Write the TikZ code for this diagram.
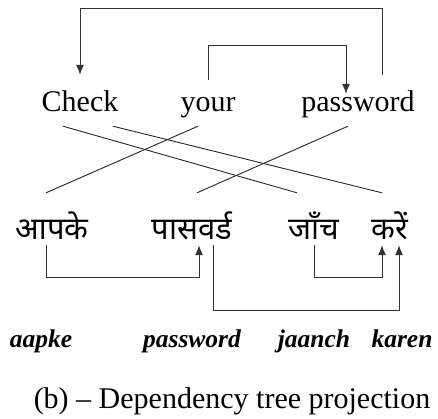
\documentclass[tikz,border=0pt]{standalone}
\usepackage{fontspec}
\setmainfont{Liberation Serif}
\newfontfamily\hindi[Script=Devanagari]{Noto Sans}
\usetikzlibrary{arrows.meta}
\begin{document}
\begin{tikzpicture}[x=1pt,y=-1pt,
  eng/.style={inner sep=0pt, anchor=base, font=\fontsize{30}{30}\selectfont, text height=36pt, text depth=15pt},
  hin/.style={inner sep=0pt, anchor=base, font=\hindi\fontsize{31}{31}\selectfont, text height=46pt, text depth=6pt},
  tr/.style={inner sep=0pt, anchor=base, font=\bfseries\itshape\fontsize{25.5}{25.5}\selectfont},
  dep/.style={line width=1pt, black!80, -{Latex[length=10pt,width=8pt]}},
  lnk/.style={line width=0.9pt, black!85}]
\useasboundingbox (0,0) rectangle (438,418);

\node[eng] (check) at (80,111) {Check};
\node[eng] (your) at (208,111) {your};
\node[eng] (pass) at (358,111) {password};

\node[hin] (aapke) at (52,239) {आपके};
\node[hin] (pasvard) at (192,239) {पासवर्ड};
\node[hin] (janch) at (314,239) {जाँच};
\node[hin] (karen) at (390,239) {करें};

\node[tr] (aapke-tr) at (41,347) {aapke};
\node[tr] (pasvard-tr) at (192,347) {password};
\node[tr] (janch-tr) at (314,347) {jaanch};
\node[tr] (karen-tr) at (402,347) {karen};

\node[inner sep=0pt, anchor=base, font=\fontsize{30}{30}\selectfont] (caption) at (232,408) {(b) -- Dependency tree projection};

% english arcs
\draw[dep] ([xshift=24pt]pass.north) -- ++(0,-66) -| (check.north);
\draw[dep] ([yshift=-5pt]your.north) -- ++(0,-34) -| ([xshift=-12pt, yshift=-19pt]pass.north);

% alignment
\draw[lnk] ([xshift=-17pt]check.south) -- ([xshift=-17pt]janch.north);
\draw[lnk] ([xshift=33pt]check.south) -- ([xshift=-8pt]karen.north);
\draw[lnk] ([xshift=-10pt]your.south) -- ([xshift=-6pt]aapke.north);
\draw[lnk] ([xshift=-10pt]pass.south) -- ([xshift=5pt]pasvard.north);

% hindi arcs
\draw[dep] ([xshift=-6pt]aapke.south) -- ++(0,32) -| ([xshift=7pt]pasvard.south);
\draw[dep] ([xshift=21pt]pasvard.south) -- ++(0,65) -| ([xshift=9pt]karen.south);
\draw[dep] (janch.south) -- ++(0,32) -| ([xshift=-8pt]karen.south);
\end{tikzpicture}
\end{document}
